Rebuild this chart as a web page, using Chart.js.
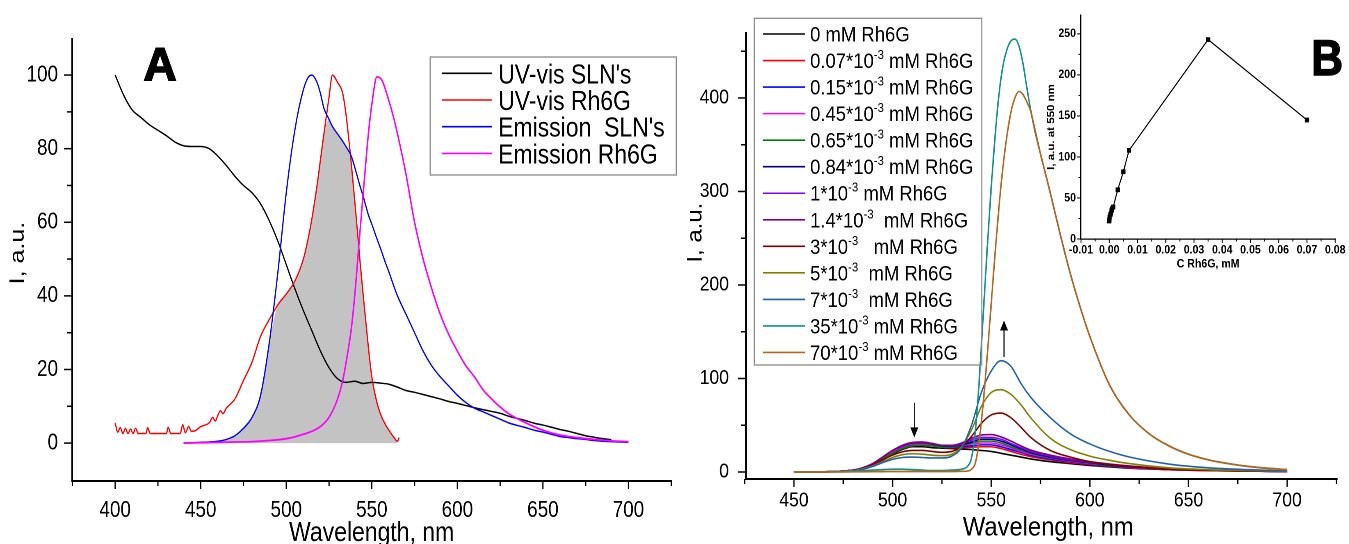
<!DOCTYPE html>
<html>
<head>
<meta charset="utf-8">
<script src="https://cdn.jsdelivr.net/npm/chart.js@4.4.1/dist/chart.umd.min.js"></script>
<style>
  html, body { margin: 0; padding: 0; background: #fff; }
  #wrap { position: relative; width: 1349px; height: 544px; overflow: hidden; }
  canvas { position: absolute; top: 0; }
</style>
</head>
<body>
<div id="wrap">
  <canvas id="chartA" width="829" height="544" style="left:0px;width:680px;height:544px"></canvas>
  <canvas id="chartB" width="760" height="544" style="left:680px;width:669px;height:544px"></canvas>
  <canvas id="inset" width="374" height="280" style="left:1020px;width:329px;height:280px"></canvas>
</div>
<script>
// ---------- panel A data ----------
const legendA = ["UV-vis SLN's", "UV-vis Rh6G", "Emission  SLN's", "Emission Rh6G"];

const blackWl = [400, 405, 410, 415, 420, 425, 430, 435, 440, 445, 450, 455, 460, 465, 470, 475, 480, 485, 490, 495,
  500, 505, 510, 515, 520, 525, 530, 535, 540, 545, 550, 555, 560, 565, 570, 575, 580, 585, 590, 595,
  600, 605, 610, 615, 620, 625, 630, 635, 640, 645, 650, 655, 660, 665, 670, 675, 680, 685, 690];
const blackVal = [100, 94.5, 90.5, 88.5, 86.5, 85, 83.5, 81.8, 80.8, 80.6, 80.6, 80, 78, 75.4, 72.5, 70, 68, 65, 60.5, 55,
  48.5, 42, 36, 30.5, 25, 20.5, 17.5, 16.5, 16.8, 16.2, 16.5, 16.3, 16, 15.2, 14.3, 13.8, 13.2, 12.6, 12, 11.3,
  10.8, 10.2, 9.6, 9.1, 8.6, 8.1, 7.3, 6.7, 6.1, 5.4, 4.9, 4.3, 3.7, 3.2, 2.6, 2.0, 1.6, 1.2, 0.9];

const redWl = [400, 401.5, 403, 404.5, 406, 407.5, 409, 410.5, 412, 413.5, 418, 419, 420.5, 430, 431, 432.5,
  438, 439.5, 441, 443, 444.5, 447, 450, 452, 455, 457, 458.5, 460, 461.5, 463, 465, 470, 475, 480, 485, 490,
  495, 500, 505, 510, 513, 515, 518, 520, 522, 525, 527, 530, 533, 535, 538, 540, 543, 545, 548, 550, 553,
  555, 558, 560, 563, 565, 566];
const redVal = [5.5, 3, 4.2, 2.6, 4, 2.6, 3.8, 2.6, 4, 2.6, 2.6, 4.2, 2.6, 2.6, 4.3, 2.6,
  2.6, 5, 2.8, 4.5, 3.2, 3.4, 4.5, 4.8, 5.5, 7, 6, 7.5, 8.8, 8, 9.5, 12, 17, 22, 29, 33.5,
  37.5, 40.5, 44, 50, 56, 61, 70, 77, 84, 94, 100, 98, 95, 89, 76, 66, 50, 40, 26, 18, 11,
  8, 5, 3.5, 1.5, 0.5, 1.5];

const blueWl = [440, 445, 450, 455, 460, 465, 470, 475, 480, 485, 490, 495, 500, 505, 510, 513, 515, 518, 520, 522,
  525, 527, 530, 533, 535, 538, 540, 543, 545, 548, 550, 553, 555, 558, 560, 563, 565, 570, 575, 580,
  585, 590, 595, 600, 605, 610, 615, 620, 625, 630, 635, 640, 645, 650, 655, 660, 665, 670, 675, 680,
  685, 690, 695, 700];
const blueVal = [0, 0.1, 0.2, 0.3, 0.5, 1, 2, 4, 7, 13, 27, 46, 68, 85, 96, 99.5, 100, 98, 95, 91,
  88, 86, 84, 82, 80.5, 78, 75, 70, 67, 62, 59.5, 55.5, 53, 49, 46.5, 42.5, 40, 35, 30, 25,
  21, 18, 15.5, 13, 11, 9.5, 8.5, 7.5, 6.5, 5.5, 4.8, 4.2, 3.5, 3, 2.4, 1.8, 1.5, 1.2, 1, 0.7,
  0.5, 0.4, 0.3, 0.2];

const magWl = [440, 450, 460, 470, 480, 490, 500, 505, 510, 515, 520, 525, 530, 533, 535, 538, 540, 543, 545, 548,
  550, 553, 556, 560, 563, 566, 570, 575, 580, 585, 590, 595, 600, 605, 610, 615, 620, 625, 630, 640,
  650, 660, 670, 680, 690, 700];
const magVal = [0, 0.1, 0.2, 0.3, 0.4, 0.7, 1.2, 1.7, 2.4, 3.2, 4.5, 7, 12, 17, 22, 31, 40, 57, 68, 84,
  92, 99.5, 98.5, 93, 88, 82, 73, 60, 50, 42, 35, 29.5, 25, 21, 18, 14.5, 12, 9.8, 8, 5.5,
  3.5, 2.2, 1.5, 1, 0.6, 0.4];

const xMajorA = [400, 450, 500, 550, 600, 650, 700];
const xMinorA = [375, 425, 475, 525, 575, 625, 675, 725];
const yMajorA = [0, 20, 40, 60, 80, 100];
const yMinorA = [10, 30, 50, 70, 90];

// ---------- panel B data ----------
const labelsB = ['0 mM Rh6G', '0.07*10^-3 mM Rh6G', '0.15*10^-3 mM Rh6G', '0.45*10^-3 mM Rh6G',
  '0.65*10^-3 mM Rh6G', '0.84*10^-3 mM Rh6G', '1*10^-3 mM Rh6G', '1.4*10^-3  mM Rh6G',
  '3*10^-3   mM Rh6G', '5*10^-3  mM Rh6G', '7*10^-3  mM Rh6G', '35*10^-3 mM Rh6G', '70*10^-3 mM Rh6G'];
const colorsB = ['#000000', '#ff0000', '#0000ff', '#ff00ff', '#008000', '#000080', '#8000ff',
  '#800080', '#800000', '#808000', '#2060b0', '#109090', '#b5651d'];

const wlLow = [450, 470, 480, 485, 490, 495, 500, 505, 510, 515, 520, 525, 530, 535, 540, 545, 550, 555, 560, 565,
  570, 580, 590, 600, 610, 620, 640, 660, 680, 700];
const em0   = [0, 0.5, 2, 4, 8, 13, 19, 24, 27, 27, 26, 25.5, 25, 24.5, 24, 23, 22, 20, 18, 16, 14, 11, 9, 7, 5.5, 4, 2.5, 1.5, 1, 0.5];
const em007 = [0, 0.5, 2, 4, 8, 14, 20, 25, 28, 29, 28, 26.5, 26, 26, 26.5, 27, 27, 25, 22, 19, 16.5, 13, 10, 8, 6, 4.5, 2.5, 1.5, 1, 0.5];
const em015 = [0, 0.5, 2, 4, 8, 14, 21, 26, 29, 30, 29, 27, 26.5, 27, 28, 29, 29, 27, 24, 21, 18, 14, 11, 8.5, 6.5, 5, 3, 1.8, 1, 0.5];
const em045 = [0, 0.5, 2, 4, 9, 15, 22, 27, 30, 30, 29, 27.5, 27, 28, 30, 31, 31, 29, 26, 22, 19, 15, 11.5, 9, 7, 5, 3, 1.8, 1, 0.5];
const em065 = [0, 0.5, 2, 4, 8, 14, 20, 25, 28, 28.5, 28, 26.5, 26.5, 28, 31, 33, 33, 31, 27, 23.5, 20, 15.5, 12, 9.5, 7, 5.5, 3, 1.8, 1, 0.5];
const em084 = [0, 0.5, 2, 4.5, 9, 16, 23, 28, 31, 31.5, 30, 28, 27.5, 29, 32, 35, 35, 33, 29, 25, 21, 16, 12.5, 10, 7.5, 5.5, 3, 2, 1, 0.5];
const em1   = [0, 0.5, 2, 4.5, 9, 16, 23, 28.5, 31.5, 32, 30.5, 28.5, 28, 30, 34, 37, 37, 35, 30.5, 26, 22, 17, 13, 10.5, 8, 6, 3.2, 2, 1, 0.5];
const em14  = [0, 0.5, 2, 4.5, 9, 16, 23, 28.5, 31.5, 32, 30.5, 28.5, 28.5, 31, 36, 39.5, 40, 37.5, 33, 28, 23.5, 18, 14, 11, 8.5, 6.5, 3.5, 2, 1, 0.5];
const em3   = [0, 0.5, 2, 4, 7.5, 13, 18, 21.5, 23, 23, 22, 21, 22, 27, 38, 52, 61, 63, 58, 48, 37, 23, 16, 11, 8, 6, 3, 1.8, 1, 0.5];
const em5   = [0, 0.5, 1.5, 3.5, 6.5, 11, 15.5, 18.5, 19.5, 19, 18, 17.5, 19, 27, 45, 70, 85, 88, 83, 72, 58, 36, 24, 17, 12.5, 9, 4.5, 2.5, 1.5, 0.8];
const em7   = [0, 0.5, 1.5, 3, 6, 10, 13.5, 15.5, 16, 15.5, 15, 15, 17, 26, 50, 85, 108, 119, 113, 95, 80, 58, 41, 30, 22, 16, 8.5, 4.5, 2.5, 1.2];

const wlHigh = [450, 470, 480, 490, 495, 500, 505, 510, 515, 520, 525, 530, 535, 538, 540, 542, 544, 546, 548, 550,
  552, 554, 556, 558, 560, 562, 564, 566, 568, 570, 572, 575, 580, 585, 590, 595, 600, 610, 620, 630,
  640, 650, 660, 670, 680, 690, 700];
const em35 = [0, 0.3, 0.8, 2, 2.5, 3, 3, 2.5, 2, 1.5, 1.5, 2, 3, 6, 15, 45, 100, 170, 240, 305,
  360, 405, 435, 452, 461, 463, 456, 438, 412, 387, 366, 340, 298, 254, 213, 177, 145, 93, 61, 41,
  28, 19, 13, 9, 6, 4, 2.5];
const em70 = [0, 0, 0.2, 0.3, 0.4, 0.5, 0.5, 0.5, 0.5, 0.5, 0.5, 0.5, 0.7, 1, 3, 10, 35, 75, 125, 180,
  235, 285, 327, 360, 385, 400, 407, 404, 396, 386, 368, 340, 298, 254, 213, 177, 145, 93, 61, 41,
  28, 19, 13, 9, 6, 4, 2.5];

const xMajorB = [450, 500, 550, 600, 650, 700];
const xMinorB = [425, 475, 525, 575, 625, 675, 725];
const yMajorB = [0, 100, 200, 300, 400];
const yMinorB = [50, 150, 250, 350, 450];

// arrows in data units (wavelength, from intensity, to intensity)
const arrowX = [511, 556.5];
const arrowFrom = [74, 123];
const arrowTo = [37, 162];

// ---------- inset data ----------
const concInset = [0, 0.00007, 0.00015, 0.00045, 0.00065, 0.00084, 0.001, 0.0014, 0.003, 0.005, 0.007, 0.035, 0.07];
const i550 = [22, 24, 27, 30, 32, 35, 37, 39, 60, 82, 108, 243, 145];
const xMajorI = [-0.01, 0, 0.01, 0.02, 0.03, 0.04, 0.05, 0.06, 0.07, 0.08];
const xMinorI = [-0.005, 0.005, 0.015, 0.025, 0.035, 0.045, 0.055, 0.065, 0.075];
const yMajorI = [0, 50, 100, 150, 200, 250];
const yMinorI = [25, 75, 125, 175, 225];

// ---------- helpers ----------
const FONT = "'Liberation Sans', Arial, sans-serif";
Chart.defaults.font.family = FONT;
Chart.defaults.color = '#000';

const pts = (xs, ys) => xs.map((x, i) => ({ x: x, y: ys[i] }));

function line(data, color, label, order, width) {
  return {
    label: label, data: data, borderColor: color, backgroundColor: color,
    borderWidth: width, pointRadius: 0, fill: false,
    cubicInterpolationMode: 'monotone', order: order, inLegend: true
  };
}

// outward tick marks, long for major and short for minor
function tickMarks(spec) {
  return {
    id: 'tickMarks',
    afterDraw(chart) {
      const ctx = chart.ctx, a = chart.chartArea;
      ctx.save();
      ctx.strokeStyle = '#000';
      ctx.lineWidth = spec.width;
      ['x', 'y'].forEach(id => {
        const s = chart.scales[id];
        const mark = (v, len) => {
          const p = s.getPixelForValue(v);
          ctx.beginPath();
          if (id === 'x') { ctx.moveTo(p, a.bottom); ctx.lineTo(p, a.bottom + len); }
          else { ctx.moveTo(a.left, p); ctx.lineTo(a.left - len / spec.k, p); }
          ctx.stroke();
        };
        spec[id].major.forEach(v => mark(v, spec.major));
        spec[id].minor.forEach(v => mark(v, spec.minor));
      });
      ctx.restore();
    }
  };
}

// boxed legend drawn at reference positions (display px converted to canvas units)
function boxLegend(o) {
  return {
    id: 'boxLegend',
    afterDraw(chart) {
      const ctx = chart.ctx;
      const X = dx => (dx - o.left) / o.k;
      ctx.save();
      ctx.strokeStyle = '#8a8a8a';
      ctx.lineWidth = 1.3;
      ctx.strokeRect(X(o.box[0]), o.box[1], X(o.box[2]) - X(o.box[0]), o.box[3] - o.box[1]);
      ctx.textAlign = 'left';
      ctx.textBaseline = 'alphabetic';
      ctx.fillStyle = '#000';
      chart.data.datasets.filter(d => d.inLegend).forEach((d, i) => {
        const y = o.row0 + o.step * i;
        ctx.strokeStyle = d.borderColor;
        ctx.lineWidth = 1.6;
        ctx.beginPath();
        ctx.moveTo(X(o.lineX[0]), y);
        ctx.lineTo(X(o.lineX[1]), y);
        ctx.stroke();
        const m = d.label.match(/^(.*?)\^(-\d+)(.*)$/);
        let x = X(o.textX);
        const base = y + o.baseOff;
        ctx.font = o.size + 'px ' + FONT;
        if (!m) { ctx.fillText(d.label, x, base); return; }
        ctx.fillText(m[1], x, base);
        x += ctx.measureText(m[1]).width;
        ctx.font = o.supSize + 'px ' + FONT;
        ctx.fillText(m[2], x, base - o.supRaise);
        x += ctx.measureText(m[2]).width;
        ctx.font = o.size + 'px ' + FONT;
        ctx.fillText(m[3], x, base);
      });
      ctx.restore();
    }
  };
}

// big panel letter; stretch undoes the canvas squeeze when needed
function panelLetter(text, x, y, size, stretch) {
  return {
    id: 'panelLetter',
    afterDraw(chart) {
      const ctx = chart.ctx;
      ctx.save();
      ctx.translate(x, y);
      ctx.scale(stretch, 1);
      ctx.font = 'bold ' + size + 'px ' + FONT;
      ctx.fillStyle = '#000';
      ctx.strokeStyle = '#000';
      ctx.lineWidth = 1.4;
      ctx.textAlign = 'center';
      ctx.textBaseline = 'alphabetic';
      ctx.fillText(text, 0, 0);
      ctx.strokeText(text, 0, 0);
      ctx.restore();
    }
  };
}

function axes(o) {
  return {
    x: {
      type: 'linear', min: o.xMin, max: o.xMax,
      grid: { display: false, drawTicks: false },
      border: { display: true, color: '#000', width: o.border },
      afterBuildTicks: s => { s.ticks = o.xMajor.map(v => ({ value: v })); },
      afterFit: s => { s.height = o.xH; },
      ticks: { autoSkip: false, maxRotation: 0, minRotation: 0, padding: o.xPad, color: '#000',
        font: o.tickFont, callback: o.xFmt || (v => String(v)) },
      title: { display: true, text: o.xTitle, color: '#000', font: o.xTitleFont,
        padding: { top: 0, bottom: o.xTitlePad } }
    },
    y: {
      type: 'linear', min: o.yMin, max: o.yMax,
      grid: { display: false, drawTicks: false },
      border: { display: true, color: '#000', width: o.border },
      afterBuildTicks: s => { s.ticks = o.yMajor.map(v => ({ value: v })); },
      afterFit: s => { s.width = o.yW; },
      ticks: { autoSkip: false, padding: o.yPad, color: '#000', font: o.tickFont, callback: v => String(v) },
      title: { display: true, text: o.yTitle, color: '#000', font: o.yTitleFont,
        padding: { top: o.yTitlePad, bottom: 0 } }
    }
  };
}

const common = {
  responsive: false, animation: false, devicePixelRatio: 2, events: [],
  plugins: { legend: { display: false }, tooltip: { enabled: false } }
};

// ---------- panel A ----------
const kA = 0.82;
const overlap = blueWl.filter(x => redWl.includes(x)).map(x => ({
  x: x, y: Math.min(redVal[redWl.indexOf(x)], blueVal[blueWl.indexOf(x)])
}));

new Chart(document.getElementById('chartA'), {
  type: 'line',
  data: {
    datasets: [
      line(pts(blackWl, blackVal), '#000000', legendA[0], 4, 1.5),
      line(pts(redWl, redVal), '#ff0000', legendA[1], 3, 1.5),
      line(pts(blueWl, blueVal), '#0000ff', legendA[2], 2, 1.5),
      line(pts(magWl, magVal), '#ff00ff', legendA[3], 1, 1.8),
      { data: overlap, fill: 'origin', backgroundColor: '#c3c3c3', borderWidth: 0,
        pointRadius: 0, order: 9, cubicInterpolationMode: 'monotone' }
    ]
  },
  options: Object.assign({}, common, {
    layout: { padding: { left: 0, top: 39, right: 829 - 671 / kA, bottom: 0 } },
    scales: axes({
      xMin: 374.8, xMax: 725, yMin: -10.3, yMax: 109.8, border: 2,
      xMajor: xMajorA, yMajor: yMajorA, xH: 63, yW: 72 / kA,
      xPad: 16, yPad: 14 / kA,
      tickFont: { size: 23, lineHeight: 1.2 },
      xTitle: 'Wavelength, nm', xTitleFont: { size: 28, lineHeight: 0.4 }, xTitlePad: 5,
      yTitle: '  I, a.u.', yTitleFont: { size: 25, lineHeight: 1 }, yTitlePad: 9.5
    })
  }),
  plugins: [
    tickMarks({ k: kA, width: 1.5, major: 8, minor: 5,
      x: { major: xMajorA, minor: xMinorA }, y: { major: yMajorA, minor: yMinorA } }),
    boxLegend({ k: kA, left: 0, box: [430, 57, 676, 175], lineX: [442, 492], textX: 498,
      row0: 73.3, step: 26.7, size: 28, baseOff: 10, supSize: 14, supRaise: 10 }),
    panelLetter('A', 160 / kA, 80, 46, 1 / kA)
  ]
});

// ---------- panel B ----------
const kB = 0.88;
const spectraB = [em0, em007, em015, em045, em065, em084, em1, em14, em3, em5, em7];
const datasetsB = spectraB.map((s, i) => line(pts(wlLow, s), colorsB[i], labelsB[i], 13 - i, 1.6));
datasetsB.push(line(pts(wlHigh, em35), colorsB[11], labelsB[11], 2, 1.7));
datasetsB.push(line(pts(wlHigh, em70), colorsB[12], labelsB[12], 1, 1.7));

const arrowsB = {
  id: 'arrowsB',
  afterDraw(chart) {
    const ctx = chart.ctx, sx = chart.scales.x, sy = chart.scales.y;
    ctx.save();
    ctx.strokeStyle = '#000';
    ctx.fillStyle = '#000';
    ctx.lineWidth = 1.3;
    arrowX.forEach((ax, i) => {
      const px = sx.getPixelForValue(ax);
      const y1 = sy.getPixelForValue(arrowFrom[i]);
      const y2 = sy.getPixelForValue(arrowTo[i]);
      const dir = y2 > y1 ? 1 : -1;
      ctx.beginPath();
      ctx.moveTo(px, y1);
      ctx.lineTo(px, y2 - dir * 8);
      ctx.stroke();
      ctx.beginPath();
      ctx.moveTo(px, y2);
      ctx.lineTo(px - 4 / kB, y2 - dir * 10);
      ctx.lineTo(px + 4 / kB, y2 - dir * 10);
      ctx.closePath();
      ctx.fill();
    });
    ctx.restore();
  }
};

new Chart(document.getElementById('chartB'), {
  type: 'line',
  data: { datasets: datasetsB },
  options: Object.assign({}, common, {
    layout: { padding: { left: 0, top: 33, right: 760 - 657 / kB, bottom: 0 } },
    scales: axes({
      xMin: 425.7, xMax: 725.4, yMin: -7.5, yMax: 469.5, border: 2,
      xMajor: xMajorB, yMajor: yMajorB, xH: 65, yW: 66 / kB,
      xPad: 10, yPad: 17 / kB,
      tickFont: { size: 20, lineHeight: 1.2 },
      xTitle: '  Wavelength, nm', xTitleFont: { size: 27, lineHeight: 1 }, xTitlePad: 2.5,
      yTitle: '       I, a.u.', yTitleFont: { size: 24, lineHeight: 1 }, yTitlePad: 6
    })
  }),
  plugins: [
    tickMarks({ k: kB, width: 1.5, major: 8, minor: 5,
      x: { major: xMajorB, minor: xMinorB }, y: { major: yMajorB, minor: yMinorB } }),
    boxLegend({ k: kB, left: 680, box: [754.3, 18.3, 981.7, 365], lineX: [762.7, 805], textX: 810,
      row0: 34, step: 26.54, size: 21, baseOff: 7.5, supSize: 13, supRaise: 9 }),
    arrowsB,
    panelLetter('B', (1327 - 680) / kB, 75, 50, 1)
  ]
});

// ---------- inset ----------
const kI = 0.88;
new Chart(document.getElementById('inset'), {
  type: 'line',
  data: {
    datasets: [{
      data: pts(concInset, i550), borderColor: '#000', borderWidth: 1.2, tension: 0,
      pointStyle: 'rect', pointRadius: 3.4, pointBackgroundColor: '#000', pointBorderWidth: 0
    }]
  },
  options: Object.assign({}, common, {
    layout: { padding: { left: 0, top: 15, right: 374 - 317 / kI, bottom: 0 } },
    scales: axes({
      xMin: -0.01, xMax: 0.08, yMin: 0, yMax: 273, border: 1.2,
      xMajor: xMajorI, yMajor: yMajorI, xH: 41, yW: 61 / kI,
      xPad: 4, yPad: 5 / kI, xFmt: v => v.toFixed(2),
      tickFont: { size: 12, weight: 'bold', lineHeight: 1.2 },
      xTitle: 'C Rh6G, mM', xTitleFont: { size: 12, weight: 'bold', lineHeight: 1 }, xTitlePad: 10,
      yTitle: 'I, a.u. at 550 nm', yTitleFont: { size: 11.5, weight: 'bold', lineHeight: 1 }, yTitlePad: 30
    })
  }),
  plugins: [
    tickMarks({ k: kI, width: 1, major: 4, minor: 2.5,
      x: { major: xMajorI, minor: xMinorI }, y: { major: yMajorI, minor: yMinorI } })
  ]
});
</script>
</body>
</html>
